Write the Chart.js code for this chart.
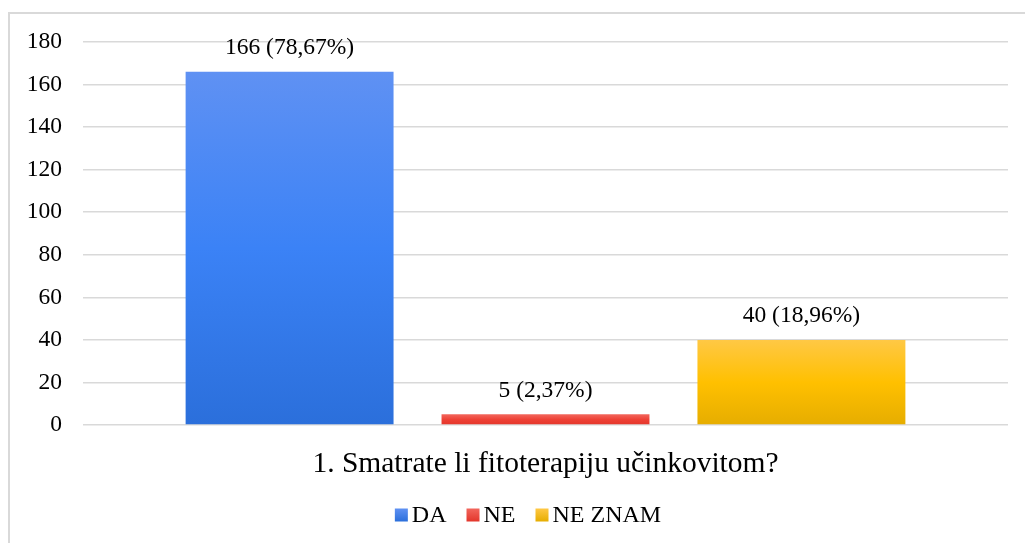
<!DOCTYPE html>
<html>
<head>
<meta charset="utf-8">
<script src="https://cdn.jsdelivr.net/npm/chart.js@4"></script>
<style>
  html, body { margin: 0; padding: 0; background: #fff; overflow: hidden; width: 1025px; height: 543px; }
  #frame { position: absolute; left: 8px; top: 12px; width: 1100px; height: 600px; border-left: 2px solid #d9d9d9; border-top: 2px solid #d9d9d9; box-sizing: border-box; }
  #wrap { position: absolute; left: 8px; top: 12px; width: 1040px; height: 531px; }
</style>
</head>
<body>
<div id="frame"></div>
<div id="wrap"><canvas id="chart" width="1040" height="531"></canvas></div>
<script>
// Data
const categories = ['1. Smatrate li fitoterapiju učinkovitom?'];
const seriesNames = ['DA', 'NE', 'NE ZNAM'];
const seriesValues = [166, 5, 40];
const seriesPercents = ['78,67%', '2,37%', '18,96%'];
const yMin = 0;
const yMax = 180;
const yStep = 20;

// Styles
const FONT = "'Liberation Serif', 'Times New Roman', serif";
const gradientStops = [
  ['#5f91f3', '#3b82f6', '#2b6fdb'],
  ['#f2665c', '#ee4035', '#e3362b'],
  ['#ffc845', '#ffc000', '#e6ad00']
];

function barGradient(ctx, i) {
  const chart = ctx.chart;
  const stops = gradientStops[i];
  if (!chart.chartArea || !chart.scales.y) return stops[1];
  const y = chart.scales.y;
  const top = y.getPixelForValue(seriesValues[i]);
  const bottom = y.getPixelForValue(0);
  const g = chart.ctx.createLinearGradient(0, top, 0, bottom);
  g.addColorStop(0, stops[0]);
  g.addColorStop(0.5, stops[1]);
  g.addColorStop(1, stops[2]);
  return g;
}

// Value labels above bars
const valueLabels = {
  id: 'valueLabels',
  afterDatasetsDraw(chart) {
    const ctx = chart.ctx;
    ctx.save();
    ctx.font = `23.5px ${FONT}`;
    ctx.fillStyle = '#000';
    ctx.textAlign = 'center';
    ctx.textBaseline = 'middle';
    chart.data.datasets.forEach((ds, i) => {
      const bar = chart.getDatasetMeta(i).data[0];
      ctx.fillText(`${seriesValues[i]} (${seriesPercents[i]})`, bar.x, bar.y - 24);
    });
    ctx.restore();
  }
};

// Legend drawn by hand (small box/text gap)
const bottomLegend = {
  id: 'bottomLegend',
  afterDraw(chart) {
    const ctx = chart.ctx;
    const box = 13, gap = 4, spacing = 20;
    ctx.save();
    ctx.font = `24px ${FONT}`;
    const widths = seriesNames.map(n => box + gap + ctx.measureText(n).width);
    const total = widths.reduce((a, b) => a + b, 0) + spacing * (seriesNames.length - 1);
    let x = chart.width / 2 - total / 2;
    const cy = 503;
    ctx.textBaseline = 'middle';
    ctx.textAlign = 'left';
    seriesNames.forEach((n, i) => {
      const g = ctx.createLinearGradient(0, cy - box / 2, 0, cy + box / 2);
      g.addColorStop(0, gradientStops[i][0]);
      g.addColorStop(1, gradientStops[i][2]);
      ctx.fillStyle = g;
      ctx.fillRect(x, cy - box / 2, box, box);
      ctx.fillStyle = '#000';
      ctx.fillText(n, x + box + gap, cy + 1);
      x += widths[i] + spacing;
    });
    ctx.restore();
  }
};

const datasets = seriesNames.map((name, i) => ({
  label: name,
  data: [seriesValues[i]],
  backgroundColor: (ctx) => barGradient(ctx, i),
  borderWidth: 0,
  categoryPercentage: 0.83,
  barPercentage: 0.8125
}));

new Chart(document.getElementById('chart'), {
  type: 'bar',
  data: { labels: categories, datasets },
  options: {
    responsive: false,
    devicePixelRatio: 1,
    animation: false,
    layout: { padding: { top: 30, right: 40, bottom: 60, left: 0 } },
    plugins: {
      legend: { display: false },
      tooltip: { enabled: false }
    },
    scales: {
      x: {
        grid: { display: false },
        border: { display: false },
        ticks: { color: '#000', font: { family: FONT, size: 29.5 }, padding: 14 },
        afterFit(scale) { scale.height = 58; }
      },
      y: {
        min: yMin,
        max: yMax,
        // invisible tick marks give the gap between labels and grid
        grid: { color: '#d9d9d9', lineWidth: 1.5, drawTicks: true, tickLength: 19, tickColor: 'rgba(0,0,0,0)' },
        border: { display: false },
        ticks: { stepSize: yStep, color: '#000', font: { family: FONT, size: 23.5 }, padding: 2 },
        afterFit(scale) { scale.width = 75; }
      }
    }
  },
  plugins: [valueLabels, bottomLegend]
});
</script>
</body>
</html>
